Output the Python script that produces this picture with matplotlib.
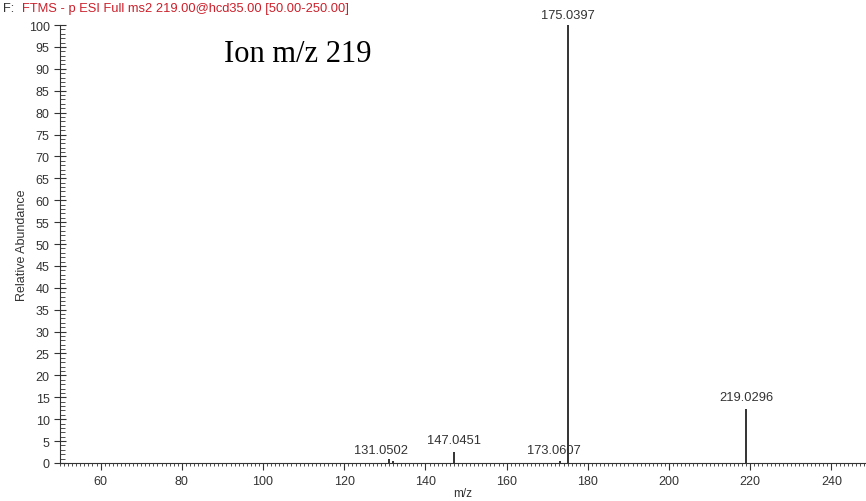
import numpy as np
import matplotlib.pyplot as plt
from matplotlib.ticker import MultipleLocator

# peak list
mz = [131.0502, 132.05, 147.0451, 173.0607, 175.0397, 219.0296]
intensity = [0.8, 0.5, 2.6, 0.4, 100.0, 12.4]
labelled = [131.0502, 147.0451, 173.0607, 175.0397, 219.0296]
label_y = [1.6, 3.9, 1.6, 100.9, 13.6]
label_dx = [-2.0, 0, -1.5, 0, 0]

plt.rcParams['font.family'] = ['Liberation Sans', 'DejaVu Sans']

fig = plt.figure(figsize=(8.66, 5.02), dpi=100)
ax = fig.add_axes([0.0693, 0.0757, 0.9307, 0.8725])

ax.vlines(mz, 0, intensity, colors='#333333', linewidth=1.4)

for m, y, dx in zip(labelled, label_y, label_dx):
    ax.text(m + dx, y, f'{m:.4f}', ha='center', va='bottom', fontsize=9.3, color='#333333')

ax.set_xlim(50, 248.5)
ax.set_ylim(0, 100)
ax.spines['top'].set_visible(False)
ax.spines['right'].set_visible(False)
ax.spines['left'].set_color('#333333')
ax.spines['bottom'].set_color('#333333')

ax.xaxis.set_major_locator(MultipleLocator(20))
ax.xaxis.set_minor_locator(MultipleLocator(1))
ax.yaxis.set_major_locator(MultipleLocator(5))
ax.yaxis.set_minor_locator(MultipleLocator(1))
ax.tick_params(axis='x', which='major', direction='out', length=5, width=0.8,
               labelsize=9, colors='#333333', pad=4)
ax.tick_params(axis='x', which='minor', direction='out', length=2.5, width=0.6, colors='#333333')
ax.tick_params(axis='y', which='major', direction='inout', length=9, width=0.8,
               labelsize=9, colors='#333333', pad=3)
ax.tick_params(axis='y', which='minor', direction='in', length=3.5, width=0.6, colors='#333333')

ax.set_xlabel('m/z', fontsize=8.5, color='#333333')
ax.xaxis.set_label_coords(0.50, -0.055)
ax.set_ylabel('Relative Abundance', fontsize=9, color='#333333')
ax.yaxis.set_label_coords(-0.040, 0.5)

fig.text(0.004, 0.995, 'F:', ha='left', va='top', fontsize=9.3, color='#333333')
fig.text(0.025, 0.995, 'FTMS - p ESI Full ms2 219.00@hcd35.00 [50.00-250.00]',
         ha='left', va='top', fontsize=9.3, color='#cc1f2a')

fig.text(0.259, 0.877, 'Ion m/z 219', ha='left', va='baseline', fontsize=22,
         family='Liberation Serif', color='black')

fig.savefig('out.png', dpi=100)
